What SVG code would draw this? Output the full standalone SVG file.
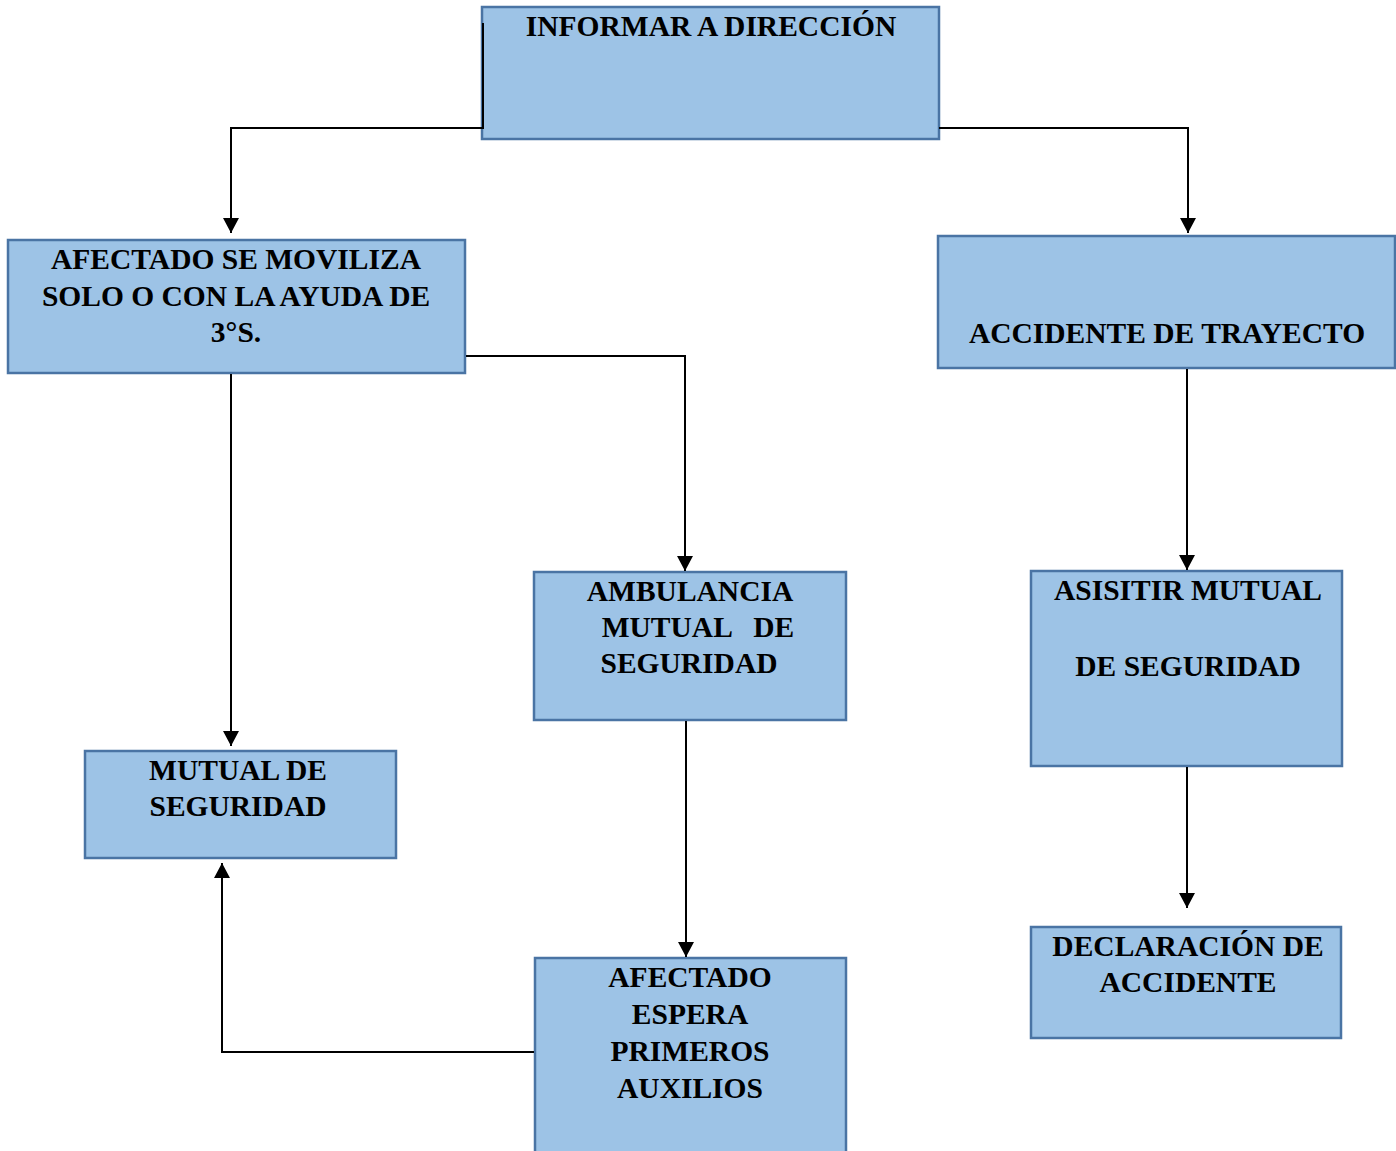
<svg xmlns="http://www.w3.org/2000/svg" width="1396" height="1151" viewBox="0 0 1396 1151">
<defs>
<marker id="arr" markerUnits="userSpaceOnUse" markerWidth="18" markerHeight="18" viewBox="0 0 18 18" refX="15" refY="9" orient="auto">
<path d="M0,1 L15,9 L0,17 Z" fill="#000"/>
</marker>
<style>
.box{fill:#9DC3E6;stroke:#4A74A4;stroke-width:2.5}
.t{font-family:"Liberation Serif","Times New Roman",serif;font-weight:bold;font-size:29.5px;fill:#000;text-anchor:middle}
.c{fill:none;stroke:#000;stroke-width:2}
</style>
</defs>
<rect width="1396" height="1151" fill="#fff"/>
<g id="n1"><rect class="box" x="482" y="7" width="457" height="132"/><text class="t" x="711" y="36">INFORMAR A DIRECCIÓN</text></g>
<g id="n2"><rect class="box" x="8" y="240" width="457" height="133"/>
<text class="t" x="236" y="269">AFECTADO SE MOVILIZA</text>
<text class="t" x="236" y="306">SOLO O CON LA AYUDA DE</text>
<text class="t" x="236" y="342">3°S.</text></g>
<g id="n3"><rect class="box" x="938" y="236" width="457" height="132"/><text class="t" x="1167" y="343">ACCIDENTE DE TRAYECTO</text></g>
<g id="n4"><rect class="box" x="534" y="572" width="312" height="148"/>
<text class="t" x="690" y="601">AMBULANCIA</text>
<text class="t" x="698" y="637" xml:space="preserve">MUTUAL   DE</text>
<text class="t" x="689" y="673">SEGURIDAD</text></g>
<g id="n5"><rect class="box" x="85" y="751" width="311" height="107"/>
<text class="t" x="238" y="780">MUTUAL DE</text>
<text class="t" x="238" y="816">SEGURIDAD</text></g>
<g id="n6"><rect class="box" x="535" y="958" width="311" height="200"/>
<text class="t" x="690" y="987">AFECTADO</text>
<text class="t" x="690" y="1024">ESPERA</text>
<text class="t" x="690" y="1061">PRIMEROS</text>
<text class="t" x="690" y="1098">AUXILIOS</text></g>
<g id="n7"><rect class="box" x="1031" y="571" width="311" height="195"/>
<text class="t" x="1188" y="600">ASISITIR MUTUAL</text>
<text class="t" x="1188" y="676">DE SEGURIDAD</text></g>
<g id="n8"><rect class="box" x="1031" y="927" width="310" height="111"/>
<text class="t" x="1188" y="956">DECLARACIÓN DE</text>
<text class="t" x="1188" y="992">ACCIDENTE</text></g>
<g id="connectors">
<path class="c" d="M483,23 V128 H231 V233" marker-end="url(#arr)"/>
<path class="c" d="M939,128 H1188 V233" marker-end="url(#arr)"/>
<path class="c" d="M466,356 H685 V571" marker-end="url(#arr)"/>
<path class="c" d="M231,374 V746" marker-end="url(#arr)"/>
<path class="c" d="M686,721 V957" marker-end="url(#arr)"/>
<path class="c" d="M534,1052 H222 V863" marker-end="url(#arr)"/>
<path class="c" d="M1187,369 V570" marker-end="url(#arr)"/>
<path class="c" d="M1187,767 V908" marker-end="url(#arr)"/>
</g>
</svg>
